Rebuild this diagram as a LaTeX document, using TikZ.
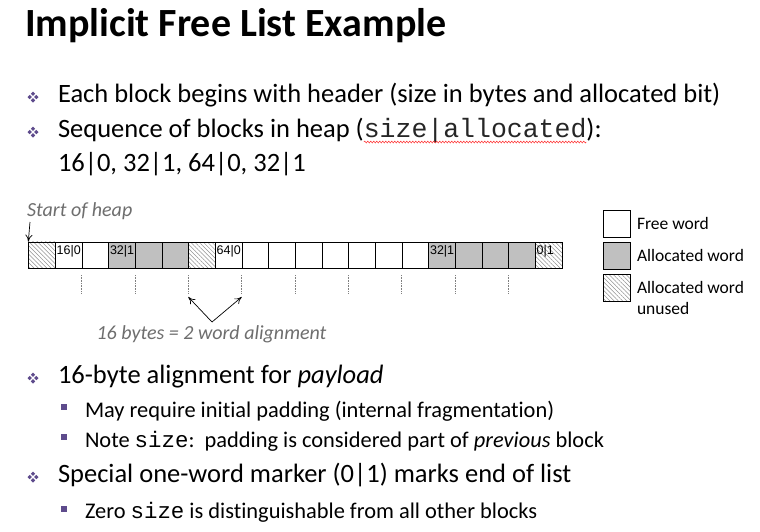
\documentclass[tikz,border=0pt]{standalone}
\usepackage{fontspec}
\setmainfont[Ligatures=NoCommon]{Carlito}
\setmonofont{Liberation Mono}
\newfontfamily\cellfont{Liberation Sans}
\usetikzlibrary{patterns.meta,arrows.meta,decorations.pathmorphing}
\definecolor{bulletpurple}{HTML}{5E4B8C}
\definecolor{allocgray}{HTML}{C0C0C0}
\definecolor{notegray}{HTML}{6E6E6E}
\tikzset{
  txt/.style={anchor=base west, inner sep=0pt, outer sep=0pt},
  lvlone/.style={txt, font=\fontsize{26.5}{30}\selectfont},
  lvltwo/.style={txt, font=\fontsize{22.4}{26}\selectfont},
  sqbullet/.style={fill=bulletpurple, draw=none, minimum size=6.5pt, inner sep=0pt},
  hatch/.style={pattern={Lines[angle=-45,distance=3pt,line width=0.5pt]}, pattern color=gray!85},
  cell/.style={draw=black, line width=0.8pt, minimum width=26.67pt, minimum height=26.5pt, inner sep=0pt, anchor=north west},
  freecell/.style={cell, fill=white},
  alloccell/.style={cell, fill=allocgray},
  unusedcell/.style={cell, hatch},
  celllab/.style={txt, font=\cellfont\fontsize{12.5}{14}\selectfont},
  legbox/.style={draw, line width=0.8pt, minimum size=27pt, inner sep=0pt, anchor=north west},
  guide/.style={draw=gray, densely dotted, line width=0.6pt},
  notetxt/.style={inner sep=0pt, text=notegray, font=\itshape\fontsize{20}{24}\selectfont},
  legtxt/.style={txt, font=\fontsize{17.5}{20}\selectfont},
  ptr/.style={-{To[length=7pt,width=7pt]}, line width=0.7pt},
  spell/.style={draw=red!85, line width=0.5pt, decorate, decoration={snake, amplitude=0.9pt, segment length=3pt}},
  pics/quadbullet/.style={code={
    \foreach \dx/\dy in {0/-3.3,0/3.3,-3.3/0,3.3/0}
      \fill[bulletpurple] (\dx,\dy) +(0,-2.2) -- +(2.2,0) -- +(0,2.2) -- +(-2.2,0) -- cycle;
  }}
}
\begin{document}
\begin{tikzpicture}[x=1pt,y=-1pt]
\useasboundingbox[fill=white] (0,0) rectangle (760,531);

% title
\node[txt, font=\bfseries\fontsize{40}{44}\selectfont] (title) at (25,36) {Implicit Free List Example};

% first group of bullets
\pic at (33,97) {quadbullet};
\node[lvlone] (t1) at (58,102) {Each block begins with header (size in bytes and allocated bit)};
\pic at (33,132) {quadbullet};
\node[lvlone] (t2) at (58,137) {Sequence of blocks in heap (};
\node[lvlone, font=\ttfamily\fontsize{26.5}{30}\selectfont, text=black!85] (t2m) at (t2.base east) {size|allocated};
\node[lvlone] (t2e) at (t2m.base east) {):};
\draw[spell] ([yshift=-5pt]t2m.base west) -- ([yshift=-5pt]t2m.base east);
\node[lvlone] (t3) at (58,171) {16|0, 32|1, 64|0, 32|1};

% heap words, each with its header label (if any)
\foreach \i/\st/\lab in {0/unusedcell/,1/freecell/16|0,2/freecell/,3/alloccell/32|1,4/alloccell/,5/alloccell/,6/unusedcell/,
  7/freecell/64|0,8/freecell/,9/freecell/,10/freecell/,11/freecell/,12/freecell/,13/freecell/,14/freecell/,
  15/alloccell/32|1,16/alloccell/,17/alloccell/,18/alloccell/,19/unusedcell/0|1}{
  \node[\st] (w\i) at ({28.3+26.67*\i},241.7) {};
  \node[celllab] (l\i) at ([xshift=1.7pt,yshift=-12.6pt]w\i.north west) {\lab};
}

% 16-byte alignment guides
\foreach \i in {2,4,...,18}{
  \coordinate (g\i) at ({28.3+26.67*\i},275);
  \draw[guide] (g\i) -- ++(0,18);
}

% start of heap
\node[notetxt, anchor=base west] (start) at (27,216) {Start of heap};
\coordinate (startarrow) at (30,222);
\draw[ptr] (startarrow) -- (w0.north west);

% alignment note
\node[notetxt, anchor=base] (align) at (211.5,339) {16 bytes = 2 word alignment};
\coordinate (apex) at (212,322);
\coordinate (gl) at (188.3,297);
\coordinate (gr) at (241.7,297);
\draw[ptr] (apex) -- (gl);
\draw[ptr] (apex) -- (gr);

% legend
\node[legbox, fill=white] (lfree) at (603,210) {};
\node[legbox, fill=allocgray] (lalloc) at (603,242) {};
\node[legbox, hatch] (lunused) at (603,274) {};
\node[legtxt] (lt1) at (637,229) {Free word};
\node[legtxt] (lt2) at (637,261) {Allocated word};
\node[legtxt] (lt3) at (637,293) {Allocated word};
\node[legtxt] (lt4) at (637,314) {unused};

% second group of bullets
\pic at (33,378) {quadbullet};
\node[lvlone] (t4) at (58,383) {16-byte alignment for \textit{payload}};
\node[sqbullet] (s1) at (64,407) {};
\node[lvltwo] (t5) at (85,417) {May require initial padding (internal fragmentation)};
\node[sqbullet] (s2) at (64,437) {};
\node[lvltwo] (t6) at (85,447) {Note \texttt{size}:\ \ padding is considered part of \textit{previous} block};
\pic at (33,477) {quadbullet};
\node[lvlone] (t7) at (58,482) {Special one-word marker (0|1) marks end of list};
\node[sqbullet] (s3) at (64,509) {};
\node[lvltwo] (t8) at (85,518) {Zero \texttt{size} is distinguishable from all other blocks};
\end{tikzpicture}
\end{document}
